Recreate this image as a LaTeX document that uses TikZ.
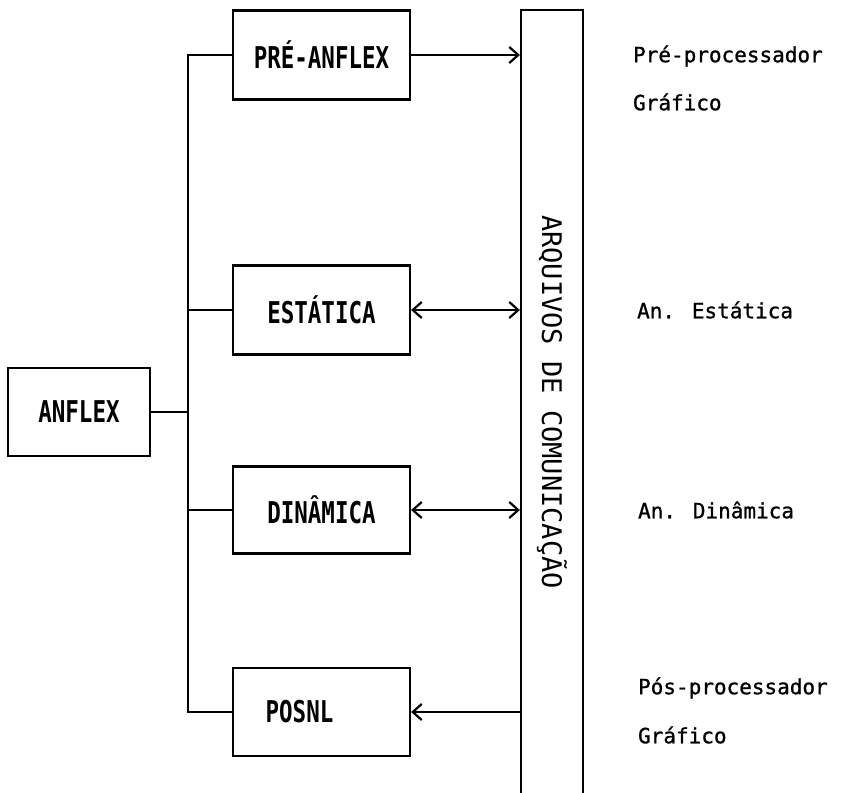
\documentclass[tikz,border=0pt]{standalone}
\usepackage{fontspec}
\newfontfamily\modfont[FakeStretch=0.75]{DejaVu Sans Mono}
\newfontfamily\txtfont[FakeBold=1]{DejaVu Sans Mono}
\newfontfamily\barfont{DejaVu Sans Mono}
\usetikzlibrary{positioning,arrows.meta}
\tikzset{
  modulo/.style={draw, rectangle, line width=2.2pt, minimum width=177pt, minimum height=89pt,
    font=\modfont\bfseries\fontsize{30}{30}\selectfont},
  rotulo/.style={anchor=west, inner sep=0pt, font=\txtfont\fontsize{21}{21}\selectfont},
  >={Straight Barb[length=9pt,width=16pt]}
}

\begin{document}
\begin{tikzpicture}[x=1pt, y=-1pt, line width=2.2pt]
      \useasboundingbox (0,0) rectangle (861,792);
      \node[modulo] (pre) at (321.5,55) {PRÉ-ANFLEX};
      \node[modulo, minimum width=142pt, minimum height=88pt] (anflex) at (79,412) {ANFLEX};
      \node[modulo] (est) at (321.5,310) {ESTÁTICA};
      \node[modulo, minimum height=87pt] (din) at (321.5,510) {DINÂMICA};
      \node[modulo, minimum height=88pt] (posnl) at (321.5,712) {POSNL\hspace*{44pt}};
      %barra de arquivos
      \node[draw, rotate=-90, minimum width=784pt, minimum height=62pt,
        font=\barfont\fontsize{27}{27}\selectfont] (arq) at (552,402) {ARQUIVOS DE COMUNICAÇÃO};
      \coordinate (bus) at (188,412);

      %barramento
      \draw (pre.west) -- (pre.west -| bus) -- (posnl.west -| bus) -- (posnl.west);
      \draw (anflex.east) -- (anflex.east -| bus);
      \draw (est.west) -- (est.west -| bus);
      \draw (din.west) -- (din.west -| bus);

      %setas
      \draw[->] (pre.east) -- (pre.east -| arq.south);
      \draw[<->] (est.east) -- (est.east -| arq.south);
      \draw[<->] (din.east) -- (din.east -| arq.south);
      \draw[->] (posnl.east -| arq.south) -- (posnl.east);

      %rotulos
      \node[rotulo] (lpre) at (632,56) {Pré-processador};
      \node[rotulo] (lpreg) at (632,102) {Gráfico};
      \node[rotulo] (lest) at (636,310) {An. Estática};
      \node[rotulo] (ldin) at (637,510) {An. Dinâmica};
      \node[rotulo] (lpos) at (637,688) {Pós-processador};
      \node[rotulo] (lposg) at (637,735) {Gráfico};
\end{tikzpicture}
\end{document}
